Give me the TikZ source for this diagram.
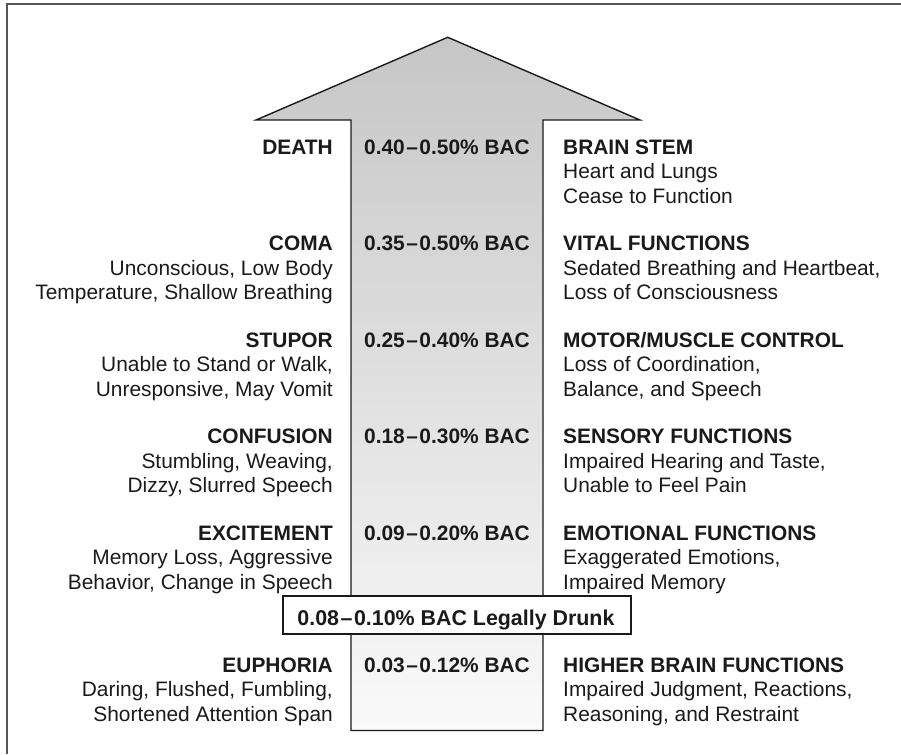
\documentclass[tikz,border=0pt]{standalone}
\usepackage{fontspec}
\setmainfont{Liberation Sans}
\definecolor{ink}{HTML}{1A1A1A}
\definecolor{frame}{HTML}{555555}
\definecolor{arrowtop}{HTML}{C6C6C6}
\definecolor{arrowbot}{HTML}{FAFAFA}
\newcommand{\bac}[2]{\textbf{#1\kern1.5pt–\kern1.5pt#2\% BAC}}
\tikzset{
  txt/.style={inner sep=0pt, text=ink, font=\fontsize{20.9}{24.5}\selectfont},
  lefttxt/.style={txt, align=right, anchor=base east},
  righttxt/.style={txt, align=left, anchor=base west},
  midtxt/.style={txt, anchor=base},
  outline/.style={draw=ink, line width=1.4pt, line join=miter},
}
\begin{document}
\begin{tikzpicture}[x=1pt,y=-1pt]
\useasboundingbox (0,0) rectangle (901,754);
% frame
\draw[frame, line width=1.6pt] (7,754) -- (7,4) -- (901,4);
% arrow
\shade[top color=arrowtop, bottom color=arrowbot]
  (447.7,37.3) -- (640,120) -- (543,120) -- (543,730.5) -- (351,730.5) -- (351,120) -- (256,120) -- cycle;
\draw[outline]
  (447.7,37.3) -- (640,120) -- (543,120) -- (543,730.5) -- (351,730.5) -- (351,120) -- (256,120) -- cycle;
% legally drunk box
\node[draw=ink, line width=1.4pt, fill=white, minimum width=348pt, minimum height=38pt, inner sep=0pt] (legal) at (457,615) {};
\node[midtxt, font=\fontsize{21.4}{24.5}\selectfont] (legaltxt) at (456,625) {\textbf{0.08\kern1.5pt–\kern1.5pt0.10\% BAC Legally Drunk}};
% rows (multi-line nodes: base anchor is the last line, two lines of 24.5 below the first)
\node[lefttxt] (l1) at (333,154) {\textbf{DEATH}};
\node[midtxt] (m1) at (447,154) {\bac{0.40}{0.50}};
\node[righttxt] (r1) at (563,203) {\textbf{BRAIN STEM}\\Heart and Lungs\\Cease to Function};

\node[lefttxt] (l2) at (333,299.5) {\textbf{COMA}\\Unconscious, Low Body\\Temperature, Shallow Breathing};
\node[midtxt] (m2) at (447,250.5) {\bac{0.35}{0.50}};
\node[righttxt] (r2) at (563,299.5) {\textbf{VITAL FUNCTIONS}\\Sedated Breathing and Heartbeat,\\Loss of Consciousness};

\node[lefttxt] (l3) at (333,396) {\textbf{STUPOR}\\Unable to Stand or Walk,\\Unresponsive, May Vomit};
\node[midtxt] (m3) at (447,347) {\bac{0.25}{0.40}};
\node[righttxt] (r3) at (563,396) {\textbf{MOTOR/MUSCLE CONTROL}\\Loss of Coordination,\\Balance, and Speech};

\node[lefttxt] (l4) at (333,492.5) {\textbf{CONFUSION}\\Stumbling, Weaving,\\Dizzy, Slurred Speech};
\node[midtxt] (m4) at (447,443.5) {\bac{0.18}{0.30}};
\node[righttxt] (r4) at (563,492.5) {\textbf{SENSORY FUNCTIONS}\\Impaired Hearing and Taste,\\Unable to Feel Pain};

\node[lefttxt] (l5) at (333,589) {\textbf{EXCITEMENT}\\Memory Loss, Aggressive\\Behavior, Change in Speech};
\node[midtxt] (m5) at (447,540) {\bac{0.09}{0.20}};
\node[righttxt] (r5) at (563,589) {\textbf{EMOTIONAL FUNCTIONS}\\Exaggerated Emotions,\\Impaired Memory};

\node[lefttxt] (l6) at (333,721) {\textbf{EUPHORIA}\\Daring, Flushed, Fumbling,\\Shortened Attention Span};
\node[midtxt] (m6) at (447,672) {\bac{0.03}{0.12}};
\node[righttxt] (r6) at (563,721) {\textbf{HIGHER BRAIN FUNCTIONS}\\Impaired Judgment, Reactions,\\Reasoning, and Restraint};
\end{tikzpicture}
\end{document}
